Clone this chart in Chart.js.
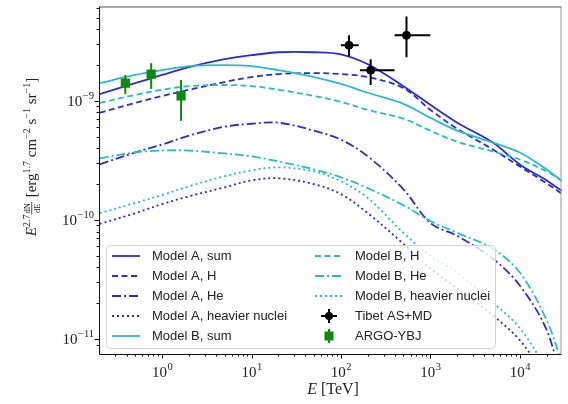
<!DOCTYPE html>
<html>
<head>
<meta charset="utf-8">
<script src="https://cdn.jsdelivr.net/npm/chart.js@4.4.0/dist/chart.umd.min.js"></script>
<style>
  html, body { margin: 0; padding: 0; background: #fff; }
</style>
</head>
<body>
<canvas id="spectrum" width="568" height="404"></canvas>
<script>
// energies in TeV, fluxes E^2.7 dN/dE in erg^1.7 cm^-2 s^-1 sr^-1
var energy = [0.2, 0.5, 1, 2, 5, 10, 20, 50, 100, 200, 500, 1000, 2000, 5000, 10000, 20000, 30000];

var modelA_sum   = [1.14e-9, 1.41e-9, 1.65e-9, 1.92e-9, 2.24e-9, 2.42e-9, 2.56e-9, 2.56e-9, 2.46e-9, 2.03e-9, 1.33e-9, 9.26e-10, 6.56e-10, 4.47e-10, 2.93e-10, 2.15e-10, 1.74e-10];
var modelA_H     = [7.94e-10, 9.62e-10, 1.10e-9, 1.24e-9, 1.44e-9, 1.585e-9, 1.68e-9, 1.71e-9, 1.68e-9, 1.585e-9, 1.28e-9, 8.41e-10, 5.84e-10, 3.91e-10, 2.82e-10, 2.03e-10, 1.65e-10];
var modelA_He    = [2.93e-10, 3.69e-10, 4.30e-10, 5.11e-10, 6.07e-10, 6.43e-10, 6.56e-10, 5.62e-10, 4.73e-10, 3.42e-10, 1.81e-10, 9.44e-11, 7.36e-11, 4.73e-11, 2.82e-11, 1.19e-11, 4.0e-12];
var modelA_heavy = [9.26e-11, 1.14e-10, 1.36e-10, 1.58e-10, 1.88e-10, 2.15e-10, 2.24e-10, 2.00e-10, 1.65e-10, 1.14e-10, 6.31e-11, 3.91e-11, 2.66e-11, 1.58e-11, 9.8e-12, 4.7e-12, null];

var modelB_sum   = [1.41e-9, 1.65e-9, 1.81e-9, 1.96e-9, 2.00e-9, 1.96e-9, 1.81e-9, 1.585e-9, 1.39e-9, 1.17e-9, 9.44e-10, 7.22e-10, 5.62e-10, 4.47e-10, 3.69e-10, 2.66e-10, 2.11e-10];
var modelB_H     = [9.62e-10, 1.12e-9, 1.24e-9, 1.33e-9, 1.36e-9, 1.33e-9, 1.24e-9, 1.10e-9, 9.81e-10, 8.41e-10, 7.08e-10, 5.62e-10, 4.55e-10, 3.76e-10, 3.22e-10, 2.56e-10, 2.11e-10];
var modelB_He    = [3.29e-10, 3.69e-10, 3.83e-10, 3.83e-10, 3.62e-10, 3.42e-10, 3.10e-10, 2.66e-10, 2.28e-10, 1.85e-10, 1.33e-10, 9.81e-11, 7.80e-11, 5.73e-11, 3.62e-11, 1.44e-11, 6.1e-12];
var modelB_heavy = [1.14e-10, 1.39e-10, 1.62e-10, 1.92e-10, 2.33e-10, 2.61e-10, 2.77e-10, 2.56e-10, 2.11e-10, 1.53e-10, 7.80e-11, 5.01e-11, 3.62e-11, 2.03e-11, 1.24e-11, 5.6e-12, null];

var tibetE      = [123, 215, 541];
var tibetELo    = [100, 163, 398];
var tibetEHi    = [158, 398, 1000];
var tibetFlux   = [2.93e-9, 1.81e-9, 3.55e-9];
var tibetFluxLo = [2.37e-9, 1.36e-9, 2.33e-9];
var tibetFluxHi = [3.55e-9, 2.24e-9, 5.11e-9];

var argoE      = [0.388, 0.755, 1.63];
var argoFlux   = [1.41e-9, 1.68e-9, 1.10e-9];
var argoFluxLo = [1.14e-9, 1.26e-9, 6.8e-10];
var argoFluxHi = [1.65e-9, 2.07e-9, 1.50e-9];

var blueA = "#2b2bd6";
var cyanB = "#28bcc4";

function pts(xs, ys) {
  var out = [];
  for (var i = 0; i < xs.length; i++) {
    if (ys[i] != null) out.push({ x: xs[i], y: ys[i] });
  }
  return out;
}

function curve(label, values, color, dash, order) {
  return {
    label: label,
    data: pts(energy, values),
    borderColor: color,
    backgroundColor: color,
    borderWidth: 1.8,
    borderDash: dash,
    pointRadius: 0,
    tension: 0.35,
    fill: false,
    order: order
  };
}

var DASH = [6, 3.5], DASHDOT = [9, 3, 2, 3], DOT = [2, 3];

var datasets = [
  curve("Model A, sum", modelA_sum, blueA, [], 2),
  curve("Model A, H", modelA_H, blueA, DASH, 2),
  curve("Model A, He", modelA_He, blueA, DASHDOT, 2),
  curve("Model A, heavier nuclei", modelA_heavy, blueA, DOT, 2),
  curve("Model B, sum", modelB_sum, cyanB, [], 1),
  curve("Model B, H", modelB_H, cyanB, DASH, 1),
  curve("Model B, He", modelB_He, cyanB, DASHDOT, 1),
  curve("Model B, heavier nuclei", modelB_heavy, cyanB, DOT, 1),
  {
    label: "Tibet AS+MD",
    data: pts(tibetE, tibetFlux),
    showLine: false,
    pointStyle: "circle",
    pointRadius: 4,
    borderColor: "#000",
    backgroundColor: "#000",
    errors: { xLo: tibetELo, xHi: tibetEHi, yLo: tibetFluxLo, yHi: tibetFluxHi },
    order: 0
  },
  {
    label: "ARGO-YBJ",
    data: pts(argoE, argoFlux),
    showLine: false,
    pointStyle: "rect",
    pointRadius: 6.5,
    borderWidth: 0,
    borderColor: "#0b8a0b",
    backgroundColor: "#0b8a0b",
    errors: { yLo: argoFluxLo, yHi: argoFluxHi },
    order: 0
  }
];

function isPow10(v) {
  var l = Math.log10(v);
  return Math.abs(l - Math.round(l)) < 1e-6;
}
function isGridTick(v) {
  var s = v / Math.pow(10, Math.floor(Math.log10(v) + 1e-9));
  return Math.abs(s - Math.round(s)) < 1e-6;
}
function supText(n) {
  return n < 0 ? "\u2212" + (-n) : String(n);
}

var SERIF = '"Liberation Serif", "DejaVu Serif", serif';
var SANS = '"Liberation Sans", "DejaVu Sans", sans-serif';

function drawPieces(ctx, pieces, x0, y0) {
  var x = x0;
  pieces.forEach(function (p) {
    ctx.font = p.font;
    if (p.frac) {
      var w = Math.max(ctx.measureText(p.num).width, ctx.measureText(p.den).width);
      ctx.textAlign = "center";
      ctx.fillText(p.num, x + w / 2 + 1, y0 - 6);
      ctx.fillText(p.den, x + w / 2 + 1, y0 + 3.5);
      ctx.fillRect(x, y0 - 4.6, w + 2, 0.8);
      ctx.textAlign = "left";
      x += w + 3;
    } else {
      ctx.fillText(p.t, x, y0 + (p.dy || 0));
      x += ctx.measureText(p.t).width;
    }
  });
  return x - x0;
}

function piecesWidth(ctx, pieces) {
  var w = 0;
  pieces.forEach(function (p) {
    ctx.font = p.font;
    if (p.frac) w += Math.max(ctx.measureText(p.num).width, ctx.measureText(p.den).width) + 3;
    else w += ctx.measureText(p.t).width;
  });
  return w;
}

var framePlugin = {
  id: "framePlugin",
  beforeDatasetDraw: function (chart, args) {
    var ds = chart.data.datasets[args.index];
    if (!ds.errors) return;
    var xs = chart.scales.x, ys = chart.scales.y, ctx = chart.ctx, e = ds.errors;
    ctx.save();
    ctx.strokeStyle = ds.borderColor;
    ctx.lineWidth = 2;
    ds.data.forEach(function (p, i) {
      var px = xs.getPixelForValue(p.x), py = ys.getPixelForValue(p.y);
      ctx.beginPath();
      ctx.moveTo(px, ys.getPixelForValue(e.yLo[i]));
      ctx.lineTo(px, ys.getPixelForValue(e.yHi[i]));
      if (e.xLo) {
        ctx.moveTo(xs.getPixelForValue(e.xLo[i]), py);
        ctx.lineTo(xs.getPixelForValue(e.xHi[i]), py);
      }
      ctx.stroke();
    });
    ctx.restore();
  },
  afterDraw: function (chart) {
    var ctx = chart.ctx, a = chart.chartArea, xs = chart.scales.x, ys = chart.scales.y;
    ctx.save();

    // frame
    ctx.lineWidth = 1;
    ctx.strokeStyle = "#555";
    ctx.beginPath(); ctx.moveTo(a.left, a.top + 0.5); ctx.lineTo(a.right, a.top + 0.5); ctx.stroke();
    ctx.strokeStyle = "#999";
    ctx.beginPath(); ctx.moveTo(a.right - 0.5, a.top); ctx.lineTo(a.right - 0.5, a.bottom); ctx.stroke();
    ctx.strokeStyle = "#111";
    ctx.beginPath();
    ctx.moveTo(a.left + 0.5, a.top); ctx.lineTo(a.left + 0.5, a.bottom + 0.5);
    ctx.lineTo(a.right, a.bottom + 0.5);
    ctx.stroke();

    // ticks
    ctx.beginPath();
    xs.ticks.forEach(function (t) {
      if (!isGridTick(t.value)) return;
      var p = Math.round(xs.getPixelForValue(t.value)) + 0.5;
      if (p < a.left || p > a.right) return;
      var len = isPow10(t.value) ? 4.5 : 2.5;
      ctx.moveTo(p, a.bottom); ctx.lineTo(p, a.bottom + len);
    });
    ys.ticks.forEach(function (t) {
      if (!isGridTick(t.value)) return;
      var p = Math.round(ys.getPixelForValue(t.value)) + 0.5;
      if (p < a.top || p > a.bottom) return;
      var len = isPow10(t.value) ? 4.5 : 2.5;
      ctx.moveTo(a.left, p); ctx.lineTo(a.left - len, p);
    });
    ctx.stroke();

    // tick labels
    ctx.fillStyle = "#222";
    ctx.textBaseline = "alphabetic";
    xs.ticks.forEach(function (t) {
      if (!isPow10(t.value)) return;
      var p = xs.getPixelForValue(t.value);
      var ex = supText(Math.round(Math.log10(t.value)));
      ctx.font = "15px " + SERIF;
      var wb = ctx.measureText("10").width;
      ctx.font = "10.5px " + SERIF;
      var we = ctx.measureText(ex).width;
      var x0 = p - (wb + we) / 2;
      ctx.font = "15px " + SERIF;
      ctx.textAlign = "left";
      ctx.fillText("10", x0, 377);
      ctx.font = "10.5px " + SERIF;
      ctx.fillText(ex, x0 + wb + 0.5, 370);
    });
    ys.ticks.forEach(function (t) {
      if (!isPow10(t.value)) return;
      var p = ys.getPixelForValue(t.value);
      var ex = supText(Math.round(Math.log10(t.value)));
      ctx.font = "10.5px " + SERIF;
      var we = ctx.measureText(ex).width;
      ctx.textAlign = "left";
      ctx.fillText(ex, 94 - we, p - 2);
      ctx.font = "15px " + SERIF;
      var wb = ctx.measureText("10").width;
      ctx.fillText("10", 93.5 - we - wb, p + 5);
    });

    // x title
    var xt = [
      { t: "E", font: "italic 16px " + SERIF },
      { t: " [TeV]", font: "16px " + SERIF }
    ];
    var wx = piecesWidth(ctx, xt);
    drawPieces(ctx, xt, 333 - wx / 2, 394);

    // y title
    var big = "15px " + SERIF, sup = "10px " + SERIF;
    var yt = [
      { t: "E", font: "italic " + big },
      { t: "2.7", font: sup, dy: -6 },
      { frac: true, num: "dN", den: "dE", font: "8.5px " + SERIF },
      { t: " [erg", font: big },
      { t: "1.7", font: sup, dy: -6 },
      { t: " cm", font: big },
      { t: "\u22122", font: sup, dy: -6 },
      { t: " s", font: big },
      { t: "\u22121", font: sup, dy: -6 },
      { t: " sr", font: big },
      { t: "\u22121", font: sup, dy: -6 },
      { t: "]", font: big }
    ];
    var wy = piecesWidth(ctx, yt);
    ctx.save();
    ctx.translate(36, 157);
    ctx.rotate(-Math.PI / 2);
    drawPieces(ctx, yt, -wy / 2, 0);
    ctx.restore();

    // legend
    var lx = 106.5, ly = 245.5, lw = 389, lh = 103, r = 4;
    ctx.beginPath();
    ctx.moveTo(lx + r, ly);
    ctx.arcTo(lx + lw, ly, lx + lw, ly + lh, r);
    ctx.arcTo(lx + lw, ly + lh, lx, ly + lh, r);
    ctx.arcTo(lx, ly + lh, lx, ly, r);
    ctx.arcTo(lx, ly, lx + lw, ly, r);
    ctx.closePath();
    ctx.fillStyle = "rgba(255,255,255,0.8)";
    ctx.fill();
    ctx.strokeStyle = "#d4d4d4";
    ctx.lineWidth = 1;
    ctx.stroke();

    var rowY = [256, 276, 296, 316, 336];
    var handleX = [112, 315];
    var textX = [152, 355];
    chart.data.datasets.forEach(function (ds, i) {
      var col = i < 5 ? 0 : 1, row = i % 5;
      var y = rowY[row], hx = handleX[col];
      ctx.save();
      if (ds.errors) {
        var cx = hx + 14;
        ctx.strokeStyle = ds.borderColor;
        ctx.fillStyle = ds.backgroundColor;
        ctx.lineWidth = 2;
        ctx.beginPath();
        ctx.moveTo(cx, y - 7); ctx.lineTo(cx, y + 7);
        if (ds.errors.xLo) { ctx.moveTo(cx - 8, y); ctx.lineTo(cx + 8, y); }
        ctx.stroke();
        ctx.beginPath();
        if (ds.pointStyle === "rect") ctx.rect(cx - 4.5, y - 4.5, 9, 9);
        else ctx.arc(cx, y, 4, 0, Math.PI * 2);
        ctx.fill();
      } else {
        ctx.strokeStyle = ds.borderColor;
        ctx.lineWidth = ds.borderWidth;
        ctx.setLineDash(ds.borderDash || []);
        ctx.beginPath();
        ctx.moveTo(hx, y); ctx.lineTo(hx + 28, y);
        ctx.stroke();
      }
      ctx.restore();
      ctx.fillStyle = "#222";
      ctx.font = "13px " + SANS;
      ctx.textAlign = "left";
      ctx.textBaseline = "middle";
      ctx.fillText(ds.label, textX[col], y);
    });

    ctx.restore();
  }
};

var chart = new Chart(document.getElementById("spectrum").getContext("2d"), {
  type: "line",
  data: { datasets: datasets },
  options: {
    responsive: false,
    animation: false,
    layout: { padding: { top: 4, right: 3, left: 0, bottom: 0 } },
    plugins: { legend: { display: false }, tooltip: { enabled: false } },
    scales: {
      x: {
        type: "logarithmic",
        min: 0.197,
        max: 29300,
        grid: { display: false },
        border: { display: false },
        ticks: { display: false },
        afterFit: function (s) { s.height = 50; }
      },
      y: {
        type: "logarithmic",
        min: 7.5e-12,
        max: 6.2e-9,
        grid: { display: false },
        border: { display: false },
        ticks: { display: false },
        afterFit: function (s) { s.width = 99; }
      }
    }
  },
  plugins: [framePlugin]
});
</script>
</body>
</html>
